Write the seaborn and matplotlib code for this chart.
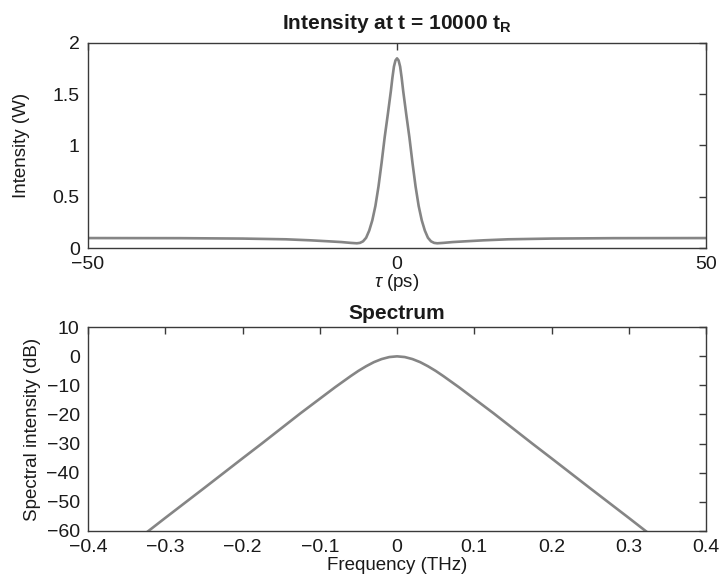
import numpy as np
import pandas as pd
import matplotlib
matplotlib.use("Agg")
import matplotlib.pyplot as plt
import seaborn as sns

# --- data ---
tau_half = [0.0, 0.25, 0.5, 0.75, 1.0, 1.5, 2.0, 2.5, 3.0, 3.5, 4.0, 4.5, 5.0, 5.5,
            6.0, 6.5, 7.5, 9.0, 11.0, 14.0, 18.0, 25.0, 35.0, 50.0]
int_half = [1.85, 1.83, 1.77, 1.66, 1.53, 1.30, 1.08, 0.83, 0.60, 0.41, 0.27, 0.17,
            0.10, 0.065, 0.05, 0.046, 0.05, 0.058, 0.065, 0.075, 0.085, 0.092, 0.096, 0.097]

f_half = [0.0, 0.01, 0.02, 0.03, 0.04, 0.05, 0.06, 0.08, 0.10, 0.125, 0.15, 0.175,
          0.20, 0.25, 0.30, 0.33, 0.40]
db_half = [0.0, -0.24, -0.94, -2.0, -3.4, -5.0, -6.8, -10.6, -14.6, -19.6, -24.8,
           -30.0, -35.1, -45.4, -55.6, -61.8, -76.0]

top_xticks = [-50, 0, 50]
top_yticks = [0, 0.5, 1, 1.5, 2]
bot_xticks = [-0.4, -0.3, -0.2, -0.1, 0, 0.1, 0.2, 0.3, 0.4]
bot_yticks = [10, 0, -10, -20, -30, -40, -50, -60]

tau = [-t for t in tau_half[::-1]] + tau_half[1:]
inten = int_half[::-1] + int_half[1:]
freq = [-f for f in f_half[::-1]] + f_half[1:]
spec = db_half[::-1] + db_half[1:]

df_t = pd.DataFrame({"tau": tau, "I": inten})
df_f = pd.DataFrame({"f": freq, "dB": spec})

sns.set_theme(style="white")
plt.rcParams["font.family"] = ["Liberation Sans", "DejaVu Sans"]
plt.rcParams["mathtext.fontset"] = "custom"
plt.rcParams["mathtext.rm"] = "Liberation Sans"
plt.rcParams["mathtext.it"] = "Liberation Sans:italic"
plt.rcParams["mathtext.bf"] = "Liberation Sans:bold"

fig = plt.figure(figsize=(7.19, 5.80), dpi=100)
ax1 = fig.add_axes([0.1224, 0.5724, 0.982 - 0.1224, 0.9259 - 0.5724])
ax2 = fig.add_axes([0.1224, 0.0850, 0.982 - 0.1224, 0.4357 - 0.0850])

line_col = "#858585"
spine_col = "#3a3a3a"
text_col = "#1a1a1a"
fs_tick = 14
fs_lab = 13.5
fs_title = 15

sns.lineplot(data=df_t, x="tau", y="I", ax=ax1, color=line_col, linewidth=1.9,
             sort=False, estimator=None)
sns.lineplot(data=df_f, x="f", y="dB", ax=ax2, color=line_col, linewidth=1.9,
             sort=False, estimator=None)

ax1.set_xlim(-50, 50)
ax1.set_ylim(0, 2)
ax1.set_xticks(top_xticks)
ax1.set_xticklabels(["\u221250", "0", "50"])
ax1.set_yticks(top_yticks)
ax1.set_yticklabels(["0", "0.5", "1", "1.5", "2"])
ax1.set_xlabel(r"$\it{\tau}$ (ps)", fontsize=fs_lab)
ax1.set_ylabel("Intensity (W)", fontsize=fs_lab)
ax1.xaxis.set_label_coords(0.5, -0.118)
ax1.yaxis.set_label_coords(-0.094, 0.5)
ax1.set_title(r"Intensity at t = 10000 t$_\mathbf{R}$", fontsize=fs_title,
              fontweight="bold", pad=10, color=text_col)

ax2.set_xlim(-0.4, 0.4)
ax2.set_ylim(-60, 10)
ax2.set_xticks(bot_xticks)
ax2.set_xticklabels(["\u22120.4", "\u22120.3", "\u22120.2", "\u22120.1", "0",
                     "0.1", "0.2", "0.3", "0.4"])
ax2.set_yticks(bot_yticks)
ax2.set_yticklabels(["10", "0", "\u221210", "\u221220", "\u221230", "\u221240",
                     "\u221250", "\u221260"])
ax2.set_xlabel("Frequency (THz)", fontsize=fs_lab)
ax2.set_ylabel("Spectral intensity (dB)", fontsize=fs_lab)
ax2.xaxis.set_label_coords(0.5, -0.13)
ax2.yaxis.set_label_coords(-0.076, 0.5)
ax2.set_title("Spectrum", fontsize=fs_title, fontweight="bold", pad=6, color=text_col)

for ax in (ax1, ax2):
    for s in ax.spines.values():
        s.set_visible(True)
        s.set_color(spine_col)
        s.set_linewidth(1.0)
    ax.tick_params(axis="both", which="major", direction="in", length=5, width=1.0,
                   color=spine_col, labelsize=fs_tick, top=True, right=True,
                   labelcolor=text_col)
    ax.tick_params(axis="x", pad=6)
    ax.tick_params(axis="y", pad=6)
    ax.grid(False)
    ax.xaxis.label.set_color(text_col)
    ax.yaxis.label.set_color(text_col)

fig.savefig("out.png", dpi=100)
